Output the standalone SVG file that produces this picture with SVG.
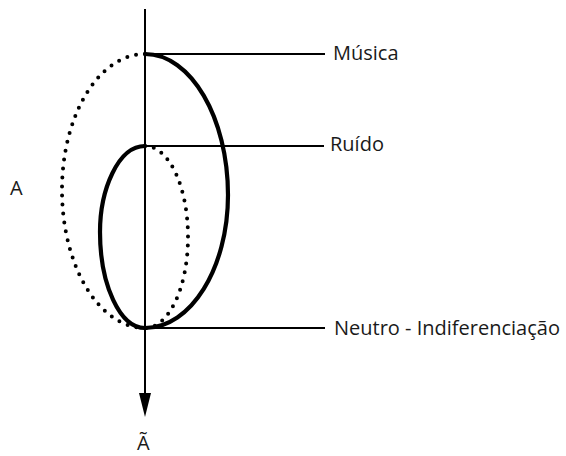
<svg xmlns="http://www.w3.org/2000/svg" width="566" height="456" viewBox="0 0 566 456">
<style>
.solid{fill:none;stroke:#000;stroke-width:4.2;stroke-linecap:round}
.dots{fill:none;stroke:#000;stroke-width:4;stroke-linecap:round;stroke-dasharray:0 9}
.ln{stroke:#000;stroke-width:2;fill:none}
text{font-family:"Open Sans","Noto Sans",sans-serif;font-size:20px;fill:#1a1a1a}
</style>
<rect width="566" height="456" fill="#fff"/>
<g id="connectors">
<line class="ln" x1="145" y1="9" x2="145" y2="396"/>
<polygon points="139,393 151,393 145,417" fill="#000"/>
<line class="ln" x1="145" y1="54" x2="325" y2="54"/>
<line class="ln" x1="145" y1="146" x2="324" y2="146"/>
<line class="ln" x1="145" y1="328" x2="325" y2="328"/>
</g>
<g id="outer-dotted"><path class="dots" d="M145,54 C99,54 62,115 62,190 C62,266 99,328 145,328"/></g>
<g id="outer-solid"><path class="solid" d="M145,54 C191,54 228,118 228,195 C228,268 191,328 145,328"/></g>
<g id="inner-dotted"><path class="dots" d="M145,146 C169,146 188,187 188,237 C188,287 169,328 145,328"/></g>
<g id="inner-solid"><path class="solid" d="M145,146 C118,146 100,190 100,232 C100,285 120,328 145,328"/></g>
<g id="musica"><text x="333" y="60">Música</text></g>
<g id="ruido"><text x="330" y="151">Ruído</text></g>
<g id="neutro"><text x="334" y="335">Neutro - Indiferenciação</text></g>
<g id="A"><text x="10" y="195" font-size="24">A</text></g>
<g id="Atil"><text x="137" y="450" font-size="19">Ã</text></g>
</svg>
